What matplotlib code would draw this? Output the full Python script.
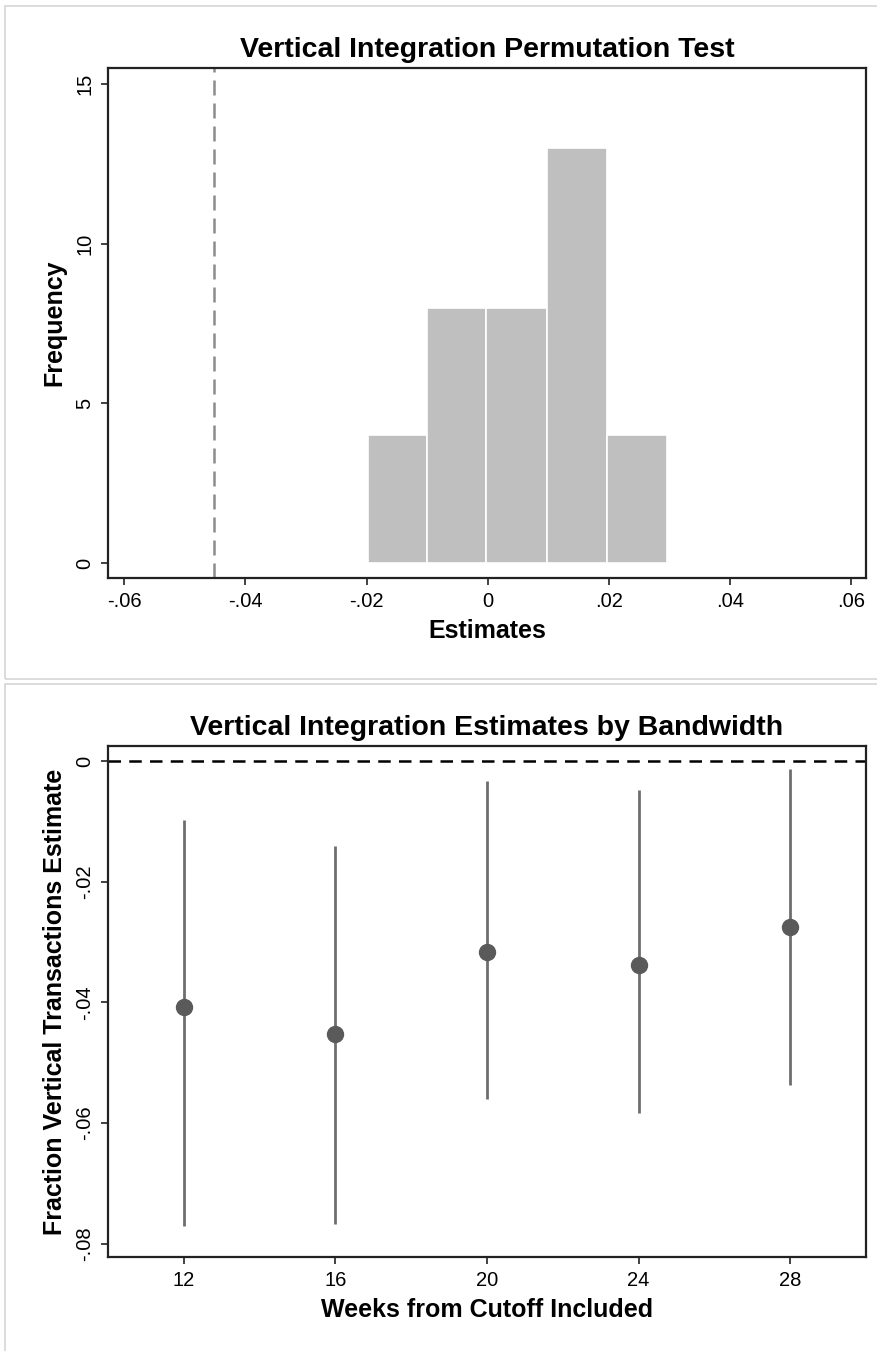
import numpy as np
import matplotlib
matplotlib.use("Agg")
import matplotlib.pyplot as plt
from matplotlib.patches import Rectangle

plt.rcParams['font.family'] = ['Liberation Sans', 'DejaVu Sans']

# permutation histogram
bin_edges = [-0.0198, -0.0100, -0.0002, 0.0098, 0.0197, 0.0296]
bin_counts = [4, 8, 8, 13, 4]
actual_estimate = -0.0452

# bandwidth estimates
weeks = [12, 16, 20, 24, 28]
estimates = [-0.0408, -0.0452, -0.0317, -0.0338, -0.0275]
ci_low = [-0.0770, -0.0767, -0.0560, -0.0583, -0.0537]
ci_high = [-0.0098, -0.0141, -0.0033, -0.0048, -0.0013]


def stata_fmt(v):
    if abs(v) < 1e-12:
        return "0"
    s = f"{v:.2f}"
    return s.replace("0.", ".")


def style_axes(ax):
    for sp in ax.spines.values():
        sp.set_color("#222222")
        sp.set_linewidth(1.6)
    ax.tick_params(direction="out", length=5, width=1.2, color="#222222",
                   labelsize=14.5, pad=5)
    for lab in ax.get_yticklabels():
        lab.set_rotation(90)
        lab.set_va("center")


fig = plt.figure(figsize=(8.78, 13.51), dpi=100)
W, H = 878, 1351

# panel borders
for (x0, y0, x1, y1) in [(5, 6, 890, 679), (5, 684, 890, 1360)]:
    fig.patches.append(Rectangle((x0 / W, 1 - y1 / H), (x1 - x0) / W, (y1 - y0) / H,
                                 transform=fig.transFigure, fill=False,
                                 edgecolor="#d6d6d6", linewidth=1.2))

# top panel
ax1 = fig.add_axes([108 / W, 1 - 578 / H, (866 - 108) / W, (578 - 68) / H])
widths = np.diff(bin_edges)
ax1.bar(bin_edges[:-1], bin_counts, width=widths, align="edge",
        color="#bfbfbf", edgecolor="white", linewidth=1.2)
ax1.axvline(actual_estimate, color="#8c8c8c", linestyle=(0, (6, 3.2)), linewidth=1.8)
ax1.set_xlim(-0.0627, 0.0625)
ax1.set_ylim(-0.47, 15.5)
ax1.set_xticks([-0.06, -0.04, -0.02, 0, 0.02, 0.04, 0.06])
ax1.set_xticklabels([stata_fmt(v) for v in [-0.06, -0.04, -0.02, 0, 0.02, 0.04, 0.06]])
ax1.set_yticks([0, 5, 10, 15])
ax1.set_yticklabels(["0", "5", "10", "15"])
ax1.set_xlabel("Estimates", fontsize=18, fontweight="bold", labelpad=6)
ax1.set_ylabel("Frequency", fontsize=18, fontweight="bold", labelpad=6)
ax1.set_title("Vertical Integration Permutation Test", fontsize=20.5, fontweight="bold", pad=8)
style_axes(ax1)

# bottom panel
ax2 = fig.add_axes([108 / W, 1 - 1257 / H, (866 - 108) / W, (1257 - 746) / H])
ax2.axhline(0, color="black", linestyle=(0, (5, 3.3)), linewidth=1.8)
ax2.vlines(weeks, ci_low, ci_high, color="#6e6e6e", linewidth=2)
ax2.plot(weeks, estimates, "o", color="#5a5a5a", markersize=11.5)
ax2.set_xlim(10, 30)
ax2.set_ylim(-0.0822, 0.0025)
ax2.set_xticks(weeks)
ax2.set_yticks([0, -0.02, -0.04, -0.06, -0.08])
ax2.set_yticklabels([stata_fmt(v) for v in [0, -0.02, -0.04, -0.06, -0.08]])
ax2.set_xlabel("Weeks from Cutoff Included", fontsize=18, fontweight="bold", labelpad=6)
ax2.set_ylabel("Fraction Vertical Transactions Estimate", fontsize=18, fontweight="bold", labelpad=6)
ax2.set_title("Vertical Integration Estimates by Bandwidth", fontsize=20.5, fontweight="bold", pad=8)
style_axes(ax2)

fig.savefig("out.png", dpi=100)
